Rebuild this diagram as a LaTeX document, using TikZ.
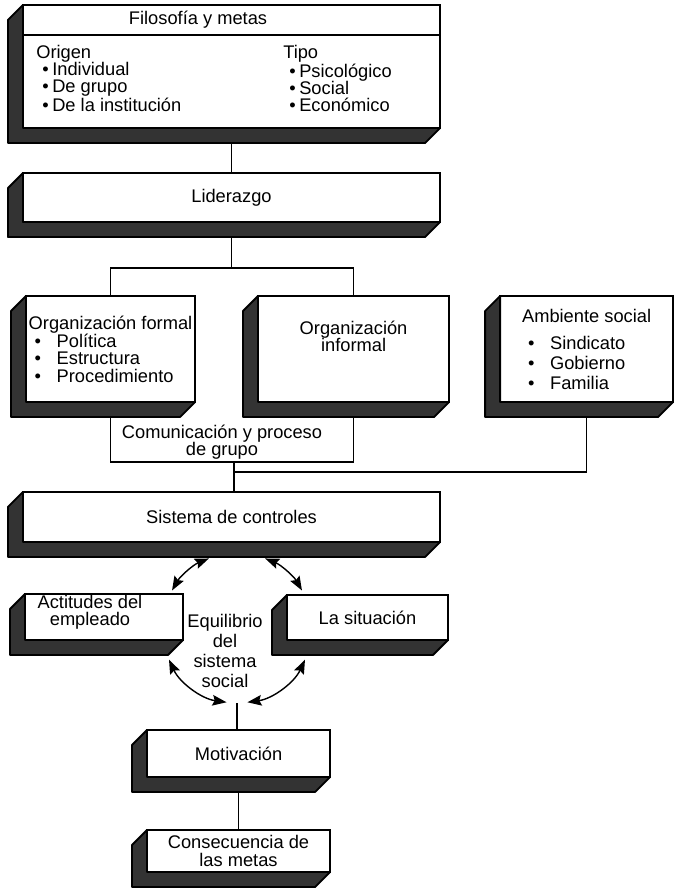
\documentclass[tikz,border=0pt]{standalone}
\usepackage{fontspec}
\setmainfont{Liberation Sans}
\usetikzlibrary{positioning,arrows.meta}

\newcommand{\itm}[1][5.5mm]{\hspace*{1.5mm}\makebox[#1][l]{\textbullet}}

\begin{document}
\begin{tikzpicture}[x=0.025cm,y=-0.025cm,font=\fontsize{13}{12.2}\selectfont]
        \tikzstyle{box} = [rectangle, draw=black, line width=1.3pt, fill=white, inner sep=1.5pt, outer sep=0pt, align=center]
        \tikzstyle{txt} = [inner sep=0pt, align=left]
        \tikzstyle{extru} = [fill=black!80, draw=black, line width=1.3pt, line join=round]
        \tikzstyle{line} = [line width=1pt]
        \tikzstyle{arrow} = [line width=1pt,<->,>={Stealth[length=10pt,width=7.5pt,inset=1.5pt]}]
        \useasboundingbox (0,0) rectangle (676,888);

        % boxes
        \node (filo) [box, minimum width=10.425cm, minimum height=3.075cm] at (231.5,66.5) {};
        \node (lider) [box, minimum width=10.425cm, minimum height=1.225cm, below=1.125cm of filo] {Liderazgo};
        \node (formal) [box, align=left, minimum width=4.225cm, minimum height=2.65cm] at (110.5,349) {Organización formal\\ \itm Política\\ \itm Estructura\\ \itm Procedimiento};
        \node (informal) [box, minimum width=4.775cm, minimum height=2.65cm, right=1.575cm of formal] {};
        \node (ambiente) [box, align=left, minimum width=4.325cm, minimum height=2.65cm, right=1.275cm of informal] {Ambiente social\\[7pt] \itm Sindicato\\[2pt] \itm Gobierno\\[2pt] \itm Familia};
        \node (sistema) [box, minimum width=10.425cm, minimum height=1.25cm] at (231.5,517) {Sistema de controles};
        \node (actitudes) [box, minimum width=3.95cm, minimum height=1.15cm] at (104,617) {};
        \node (situacion) [box, minimum width=4.025cm, minimum height=1.125cm] at (367.5,617.5) {La situación};
        \node (motiv) [box, minimum width=4.575cm, minimum height=1.175cm] at (238.5,753.5) {Motivación};
        \node (conse) [box, minimum width=4.575cm, minimum height=1.05cm, below=1.325cm of motiv] {Consecuencia de\\las metas};

        % dark sides
        \foreach \n in {filo,lider,formal,informal,ambiente,sistema,actitudes,situacion,motiv,conse}
            \filldraw [extru] (\n.north west) -- ++(-15,15) |- ([shift={(-15,15)}]\n.south east) -- (\n.south east) -- (\n.south west) -- cycle;

        % texts
        \draw [line width=1.3pt] ([yshift=-0.75cm]filo.north west) -- ([yshift=-0.75cm]filo.north east);
        \node (filotit) at (198,20) {Filosofía y metas};
        \node (origen) [txt, anchor=west] at (36,78.5) {Origen\\ \itm[2.5mm]Individual\\ \itm[2.5mm]De grupo\\ \itm[2.5mm]De la institución};
        \node (tipo) [txt, anchor=west] at (283,78.5) {Tipo\\ \itm[2.5mm]Psicológico\\ \itm[2.5mm]Social\\ \itm[2.5mm]Económico};
        \node (informaltxt) [align=center] at ([yshift=0.325cm]informal.center) {Organización\\informal};
        \node (actitudestxt) [align=center] at ([shift={(-14,-5)}]actitudes.center) {Actitudes del\\empleado};
        \node (comtxt) [align=center] at (222,442) {Comunicación y proceso\\de grupo};
        \node (eq) [circle, minimum size=3.75cm, inner sep=0pt, outer sep=0pt] at (237,628) {};
        \node (eqtxt) [align=center, font=\fontsize{13}{14.2}\selectfont] at (225,651) {Equilibrio\\del\\sistema\\social};

        % connectors
        \draw [line] ([yshift=-0.375cm]filo.south) -- (lider.north);
        \coordinate (split) at ([yshift=-1.15cm]lider.south);
        \draw [line] ([yshift=-0.375cm]lider.south) -- (split);
        \draw [line] (formal.north) |- (split) -| (informal.north);
        \coordinate (comm) at (234,462);
        \coordinate (amb) at (234,472);
        \draw [line] ([yshift=-0.375cm]formal.south) |- (comm) -| ([yshift=-0.375cm]informal.south);
        \draw [line] ([yshift=-0.375cm]ambiente.south) |- (amb);
        \draw [line] (comm) -- (comm |- sistema.north);
        \draw [arrow] (eq.112) arc[start angle=-112, end angle=-150, radius=75];
        \draw [arrow] (eq.68) arc[start angle=-68, end angle=-30, radius=75];
        \draw [arrow] (eq.205) arc[start angle=-205, end angle=-262, radius=75];
        \draw [arrow] (eq.335) arc[start angle=-335, end angle=-278, radius=75];
        \draw [line] (eq.south) -- (eq.south |- motiv.north);
        \draw [line] ([yshift=-0.375cm]motiv.south) -- (conse.north);
\end{tikzpicture}
\end{document}
